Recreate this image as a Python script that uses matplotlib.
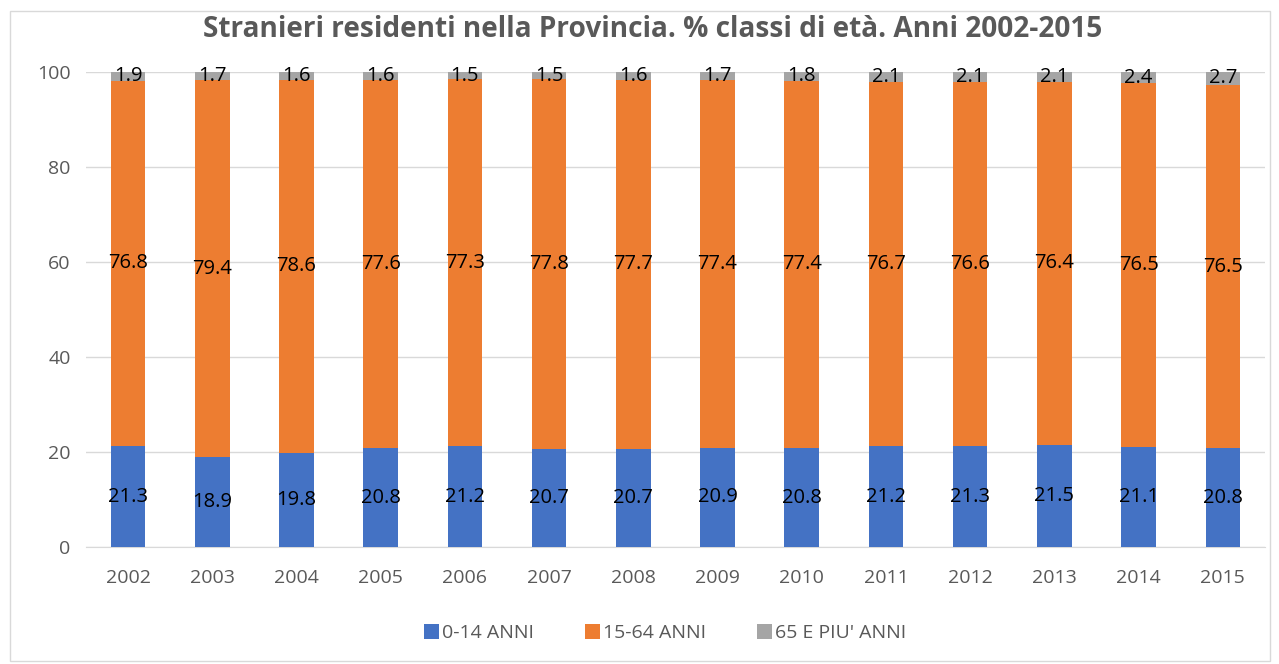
import matplotlib
matplotlib.use('Agg')
import matplotlib.pyplot as plt
import numpy as np
from matplotlib.patches import Rectangle

years = ['2002', '2003', '2004', '2005', '2006', '2007', '2008',
         '2009', '2010', '2011', '2012', '2013', '2014', '2015']
age_0_14 = [21.3, 18.9, 19.8, 20.8, 21.2, 20.7, 20.7, 20.9, 20.8, 21.2, 21.3, 21.5, 21.1, 20.8]
age_15_64 = [76.8, 79.4, 78.6, 77.6, 77.3, 77.8, 77.7, 77.4, 77.4, 76.7, 76.6, 76.4, 76.5, 76.5]
age_65_plus = [1.9, 1.7, 1.6, 1.6, 1.5, 1.5, 1.6, 1.7, 1.8, 2.1, 2.1, 2.1, 2.4, 2.7]
series_names = ['0-14 ANNI', '15-64 ANNI', "65 E PIU' ANNI"]
colors = ['#4472C4', '#ED7D31', '#A5A5A5']

plt.rcParams['font.family'] = ['Open Sans', 'DejaVu Sans']

fig = plt.figure(figsize=(12.79, 6.64), dpi=100)
ax = fig.add_axes([0.0672, 0.176, 0.9218, 0.7156])

x = np.arange(len(years))
bottom = np.zeros(len(years))
for values, name, color in zip([age_0_14, age_15_64, age_65_plus], series_names, colors):
    vals = np.array(values)
    ax.bar(x, vals, 0.41, bottom=bottom, color=color, label=name, zorder=3)
    for xi, b, v in zip(x, bottom, vals):
        ax.text(xi, b + v / 2, f'{v:.1f}', ha='center', va='center',
                fontsize=14.5, color='black', zorder=4)
    bottom += vals

ax.set_xlim(-0.5, len(years) - 0.5)
ax.set_ylim(0, 100)
ax.set_yticks(range(0, 101, 20))
ax.set_xticks(x)
ax.set_xticklabels(years)
ax.tick_params(axis='both', length=0, labelsize=14, labelcolor='#595959')
ax.tick_params(axis='x', pad=16)
ax.tick_params(axis='y', pad=11)
ax.grid(axis='y', color='#D9D9D9', linewidth=1, zorder=0)
for side in ['top', 'right', 'left']:
    ax.spines[side].set_visible(False)
ax.spines['bottom'].set_color('#D9D9D9')

fig.text(0.51, 0.955, 'Stranieri residenti nella Provincia. % classi di età. Anni 2002-2015',
         ha='center', va='center', fontsize=20.2, fontweight='bold', color='#595959')

fig.legend(loc='center', bbox_to_anchor=(0.52, 0.047), ncol=3, frameon=False,
           fontsize=14, labelcolor='#595959', handlelength=0.8, handleheight=0.8,
           handletextpad=0.15, columnspacing=2.6)

fig.patches.append(Rectangle((0.008, 0.005), 0.985, 0.978, transform=fig.transFigure,
                             fill=False, edgecolor='#D9D9D9', linewidth=1))

plt.savefig('out.png', dpi=100)
